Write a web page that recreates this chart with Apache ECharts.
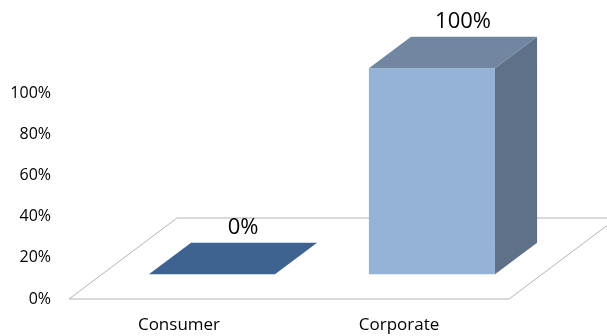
<!DOCTYPE html>
<html>
<head>
<meta charset="utf-8">
<script src="https://cdn.jsdelivr.net/npm/echarts@6/dist/echarts.min.js"></script>
<style>
  html, body { margin: 0; padding: 0; background: #fff; }
  #chart { width: 607px; height: 336px; }
</style>
</head>
<body>
<div id="chart"></div>
<script>
// Share of accounts by segment
const categories = ['Consumer', 'Corporate'];
const values = [0, 100];
const valueTicks = [0, 20, 40, 60, 80, 100];

// Face colours per bar: front, top, side
const barFaces = [
  { front: '#4F81BD', top: '#3E6391', side: '#385D8A' },
  { front: '#95B3D7', top: '#7186A1', side: '#5F7089' }
];

// Oblique projection of the depth axis (pixels for the full floor depth)
const DEPTH_X = 108;
const DEPTH_Y = -81;
const BAR_FRONT = 0.305;   // depth fraction where a bar's front face sits
const BAR_BACK = 0.695;    // depth fraction where a bar's back face sits
const BAR_WIDTH = 0.573;   // fraction of the category band

const FONT = '"Open Sans", "Noto Sans", sans-serif';

function renderFloor(params, api) {
  const cs = params.coordSys;
  const x0 = cs.x, x1 = cs.x + cs.width, y0 = cs.y + cs.height;
  return {
    type: 'polygon',
    shape: {
      points: [
        [x0, y0], [x1, y0],
        [x1 + DEPTH_X, y0 + DEPTH_Y], [x0 + DEPTH_X, y0 + DEPTH_Y]
      ]
    },
    style: { fill: 'none', stroke: '#B4B4B4', lineWidth: 1 },
    silent: true
  };
}

function renderBar(params, api) {
  const idx = api.value(0);
  const val = api.value(1);
  const base = api.coord([idx, 0]);
  const top = api.coord([idx, val]);
  const band = api.size([1, 0])[0];
  const w = band * BAR_WIDTH;
  const fx = BAR_FRONT * DEPTH_X, fy = BAR_FRONT * DEPTH_Y;
  const dx = (BAR_BACK - BAR_FRONT) * DEPTH_X, dy = (BAR_BACK - BAR_FRONT) * DEPTH_Y;
  const left = base[0] - w / 2 + fx;
  const right = base[0] + w / 2 + fx;
  const bottom = base[1] + fy;
  const upper = top[1] + fy;
  const c = barFaces[idx];
  const children = [];
  if (bottom - upper > 0.5) {
    children.push({
      type: 'polygon',
      shape: { points: [[left, bottom], [right, bottom], [right, upper], [left, upper]] },
      style: { fill: c.front }
    });
    children.push({
      type: 'polygon',
      shape: { points: [[right, bottom], [right + dx, bottom + dy], [right + dx, upper + dy], [right, upper]] },
      style: { fill: c.side }
    });
  }
  children.push({
    type: 'polygon',
    shape: { points: [[left, upper], [right, upper], [right + dx, upper + dy], [left + dx, upper + dy]] },
    style: { fill: c.top }
  });
  children.push({
    type: 'text',
    style: {
      text: val + '%',
      x: (left + right) / 2 + dx - 11,
      y: upper + dy - 15,
      align: 'center',
      verticalAlign: 'middle',
      fill: '#000',
      fontSize: 22,
      fontFamily: FONT
    }
  });
  return { type: 'group', children: children };
}

const chart = echarts.init(document.getElementById('chart'));
chart.setOption({
  animation: false,
  grid: { left: 69, right: 98, top: 93, bottom: 37 },
  xAxis: {
    type: 'category',
    data: categories,
    axisLine: { show: false },
    axisTick: { show: false },
    axisLabel: { margin: 18, fontSize: 17, color: '#000', fontFamily: FONT }
  },
  yAxis: {
    type: 'value',
    min: valueTicks[0],
    max: valueTicks[valueTicks.length - 1],
    interval: valueTicks[1] - valueTicks[0],
    axisLine: { show: false },
    axisTick: { show: false },
    splitLine: { show: false },
    axisLabel: { margin: 18, fontSize: 16, color: '#000', fontFamily: FONT, formatter: '{value}%' }
  },
  series: [
    {
      type: 'custom',
      renderItem: renderFloor,
      data: [[0, 0]],
      z: 1,
      silent: true
    },
    {
      type: 'custom',
      renderItem: renderBar,
      data: values.map((v, i) => [i, v]),
      encode: { x: 0, y: 1 },
      z: 2
    }
  ]
});
</script>
</body>
</html>
